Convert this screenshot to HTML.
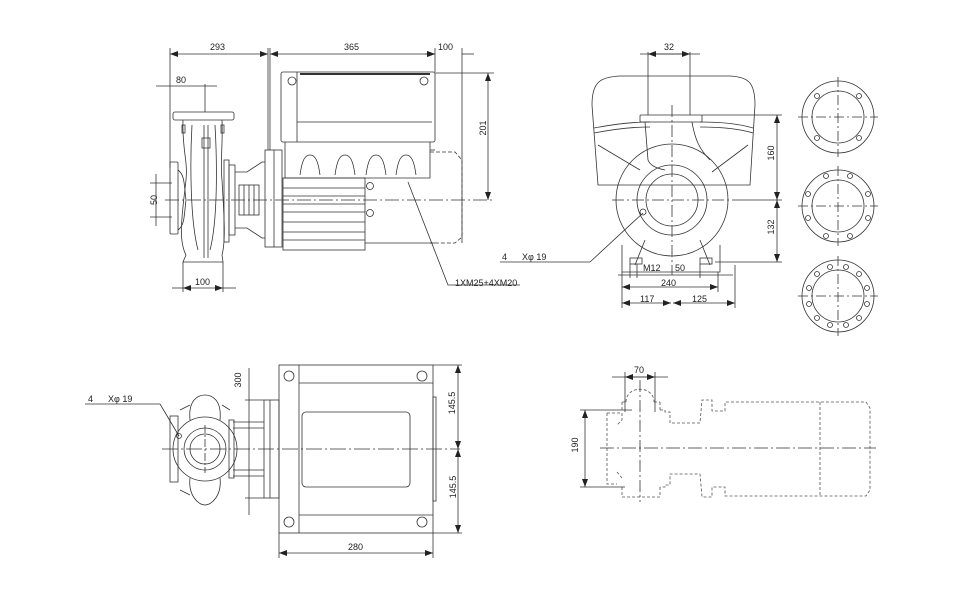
<!DOCTYPE html>
<html><head><meta charset="utf-8"><style>
html,body{margin:0;padding:0;background:#fff;}
svg{display:block;}
text{font-family:"Liberation Sans",sans-serif;font-size:9px;fill:#222;}
</style></head><body>
<svg width="976" height="600" viewBox="0 0 976 600" xmlns="http://www.w3.org/2000/svg">
<defs>
<marker id="a" markerWidth="8" markerHeight="6" refX="8" refY="3" orient="auto-start-reverse" markerUnits="userSpaceOnUse"><path d="M0,0 L8,3 L0,6 z" fill="#222"/></marker>
</defs>
<g fill="none" stroke="#333" stroke-width="0.8">
<!-- ============ TOP LEFT VIEW ============ -->
<!-- extension lines -->
<line x1="170" y1="48" x2="170" y2="168"/>
<line x1="268" y1="48" x2="268" y2="150"/>
<line x1="270" y1="48" x2="270" y2="150"/>
<line x1="435" y1="48" x2="435" y2="72"/>
<line x1="462" y1="48" x2="462" y2="243"/>
<line x1="170" y1="54" x2="268" y2="54" marker-start="url(#a)" marker-end="url(#a)"/>
<line x1="270" y1="54" x2="435" y2="54" marker-start="url(#a)" marker-end="url(#a)"/>
<line x1="425" y1="54" x2="435" y2="54" marker-end="url(#a)"/>
<line x1="462" y1="54" x2="474" y2="54"/>
<line x1="156" y1="86" x2="217" y2="86"/>
<line x1="205" y1="84" x2="205" y2="112"/>
<!-- pump top flange -->
<rect x="173" y="112" width="61" height="8" rx="2"/>
<path d="M183,120 C182,150 188,160 186,180 C182,215 178,240 186,255 M222,120 C223,150 220,160 222,180 C224,215 226,240 222,255"/>
<path d="M192,125 C190,160 190,220 198,250 M215,125 C217,160 218,220 210,250"/>
<line x1="204" y1="125" x2="204" y2="258"/>
<line x1="208" y1="125" x2="208" y2="258"/>
<rect x="202" y="138" width="8" height="10"/>
<rect x="182" y="125" width="3" height="8"/><rect x="221" y="125" width="3" height="8"/>
<!-- inlet flange -->
<rect x="170" y="162" width="8" height="72" rx="1"/>
<path d="M178,170 C185,175 184,185 186,200 C184,215 185,225 178,230"/>
<!-- right flange -->
<rect x="224" y="160" width="5" height="82"/>
<rect x="229" y="165" width="6" height="70"/>
<!-- base -->
<path d="M186,255 L183,262 L223,262 L222,255"/>
<line x1="183" y1="262" x2="183" y2="292"/><line x1="223" y1="262" x2="223" y2="292"/>
<line x1="183" y1="288" x2="223" y2="288" marker-start="url(#a)" marker-end="url(#a)"/>
<line x1="172" y1="288" x2="183" y2="288"/><line x1="223" y1="288" x2="236" y2="288"/>
<!-- 50 dim -->
<line x1="150" y1="183" x2="172" y2="183"/><line x1="150" y1="217" x2="172" y2="217"/>
<line x1="156" y1="174" x2="156" y2="226"/>
<!-- shaft / lantern -->
<path d="M235,172 L247,172 L262,162 L265,162 M235,228 L247,228 L262,238 L265,238"/>
<rect x="239" y="185" width="20" height="30"/>
<line x1="244" y1="185" x2="244" y2="215"/><line x1="249" y1="185" x2="249" y2="215"/><line x1="254" y1="185" x2="254" y2="215"/>
<!-- motor flange -->
<rect x="265" y="150" width="17" height="97"/>
<line x1="274" y1="150" x2="274" y2="247"/>
<!-- motor body -->
<rect x="283" y="178" width="82" height="72"/>
<line x1="283" y1="188" x2="365" y2="188"/><line x1="283" y1="196" x2="365" y2="196"/>
<line x1="283" y1="204" x2="365" y2="204"/><line x1="283" y1="212" x2="365" y2="212"/>
<line x1="283" y1="222" x2="365" y2="222"/><line x1="283" y1="232" x2="365" y2="232"/>
<line x1="283" y1="240" x2="365" y2="240"/>
<circle cx="370" cy="186" r="3.5"/><circle cx="370" cy="213" r="3.5"/>
<path d="M365,243 L435,243"/>
<!-- dashed motor outline -->
<path d="M430,152 L455,152 L462,160 L462,237 L455,243 L430,243" stroke-dasharray="4,2"/>
<!-- terminal box -->
<rect x="281" y="72" width="154" height="70" rx="2"/>
<line x1="297" y1="72" x2="297" y2="142"/>
<line x1="297" y1="122" x2="432" y2="122"/>
<line x1="300" y1="74" x2="430" y2="74" stroke-width="2"/>
<circle cx="292" cy="81" r="4"/><circle cx="424" cy="81" r="4"/>
<path d="M285,142 L285,178 L430,178 L430,142"/>
<line x1="430" y1="150" x2="435" y2="150"/>
<path d="M300,175 C302,160 305,155 310,155 C315,155 318,160 320,175"/>
<path d="M335,175 C337,160 340,155 345,155 C350,155 353,160 355,175"/>
<path d="M366,175 C368,160 371,155 376,155 C381,155 384,160 386,175"/>
<path d="M396,175 C398,160 401,155 406,155 C411,155 414,160 416,175"/>
<!-- centerline -->
<line x1="165" y1="200" x2="492" y2="200" stroke-dasharray="14,3,2,3"/>
<!-- 201 dim -->
<line x1="435" y1="73" x2="494" y2="73"/>
<line x1="488" y1="73" x2="488" y2="200" marker-start="url(#a)" marker-end="url(#a)"/>
<!-- leader -->
<polyline points="408,182 448,285 520,285"/>
<line x1="500" y1="262" x2="590" y2="262"/>
<line x1="590" y1="262" x2="643" y2="213"/>

<!-- ============ TOP RIGHT VIEW ============ -->
<path d="M598,185 L592,105 C592,82 600,77 620,76 L730,76 C748,77 755,82 755,105 L750,185 Z"/>
<path d="M594,128 C620,123 640,122 650,122 M700,122 C720,122 740,124 753,128"/>
<path d="M594,133 C620,128 640,127 650,127 M700,127 C720,127 740,129 753,133"/>
<path d="M598,145 L640,170 M748,145 L712,172"/>
<line x1="648" y1="52" x2="648" y2="115"/><line x1="690" y1="52" x2="690" y2="115"/>
<line x1="640" y1="54" x2="700" y2="54" />
<line x1="648" y1="54" x2="690" y2="54" marker-start="url(#a)" marker-end="url(#a)"/>
<rect x="640" y="115" width="62" height="7" rx="1"/>
<path d="M645,122 L648,160 C650,165 655,168 665,170 M692,122 C695,140 700,150 710,160"/>
<circle cx="672" cy="200" r="56"/>
<circle cx="672" cy="200" r="35"/>
<circle cx="672" cy="200" r="26"/>
<circle cx="643" cy="212" r="3"/>
<path d="M645,240 L635,265 M700,240 L710,265"/>
<path d="M622,245 L622,272 L720,272 L720,245"/>
<rect x="630" y="258" width="12" height="6"/><rect x="700" y="258" width="12" height="6"/>
<line x1="612" y1="200" x2="740" y2="200" stroke-dasharray="12,3,2,3"/>
<line x1="672" y1="105" x2="672" y2="275" stroke-dasharray="12,3,2,3"/>
<!-- 160/132 -->
<line x1="702" y1="115" x2="782" y2="115"/>
<line x1="740" y1="200" x2="782" y2="200"/>
<line x1="715" y1="262" x2="782" y2="262"/>
<line x1="777" y1="115" x2="777" y2="200" marker-start="url(#a)" marker-end="url(#a)"/>
<line x1="777" y1="200" x2="777" y2="262" marker-start="url(#a)" marker-end="url(#a)"/>
<!-- bottom dims -->
<line x1="622" y1="272" x2="622" y2="308"/><line x1="718" y1="272" x2="718" y2="292"/>
<line x1="735" y1="265" x2="735" y2="308"/>
<line x1="630" y1="264" x2="630" y2="278"/><line x1="637" y1="264" x2="637" y2="278"/>
<line x1="700" y1="264" x2="700" y2="278"/>
<line x1="618" y1="275" x2="733" y2="275"/>
<line x1="622" y1="287" x2="718" y2="287" marker-start="url(#a)" marker-end="url(#a)"/>
<line x1="622" y1="303" x2="671" y2="303" marker-start="url(#a)" marker-end="url(#a)"/>
<line x1="673" y1="303" x2="735" y2="303" marker-start="url(#a)" marker-end="url(#a)"/>
<!-- flanges -->
<g>
<circle cx="838" cy="117" r="36"/><circle cx="838" cy="117" r="26"/>
<line x1="798" y1="117" x2="878" y2="117" stroke-dasharray="10,3,2,3"/><line x1="838" y1="77" x2="838" y2="157" stroke-dasharray="10,3,2,3"/>
<circle cx="817" cy="96" r="2.5"/><circle cx="859" cy="96" r="2.5"/><circle cx="817" cy="138" r="2.5"/><circle cx="859" cy="138" r="2.5"/>
</g>
<g>
<circle cx="838" cy="206" r="36"/><circle cx="838" cy="206" r="26"/>
<line x1="798" y1="206" x2="878" y2="206" stroke-dasharray="10,3,2,3"/><line x1="838" y1="166" x2="838" y2="246" stroke-dasharray="10,3,2,3"/>
<circle cx="826" cy="176" r="2.5"/><circle cx="850" cy="176" r="2.5"/><circle cx="826" cy="236" r="2.5"/><circle cx="850" cy="236" r="2.5"/>
<circle cx="808" cy="194" r="2.5"/><circle cx="868" cy="194" r="2.5"/><circle cx="808" cy="218" r="2.5"/><circle cx="868" cy="218" r="2.5"/>
</g>
<g>
<circle cx="838" cy="296" r="36"/><circle cx="838" cy="296" r="26"/>
<line x1="798" y1="296" x2="878" y2="296" stroke-dasharray="10,3,2,3"/><line x1="838" y1="256" x2="838" y2="336" stroke-dasharray="10,3,2,3"/>
<circle cx="830" cy="267" r="2.5"/><circle cx="846" cy="267" r="2.5"/><circle cx="817" cy="274" r="2.5"/><circle cx="859" cy="274" r="2.5"/>
<circle cx="809" cy="288" r="2.5"/><circle cx="867" cy="288" r="2.5"/><circle cx="809" cy="304" r="2.5"/><circle cx="867" cy="304" r="2.5"/>
<circle cx="817" cy="318" r="2.5"/><circle cx="859" cy="318" r="2.5"/><circle cx="830" cy="325" r="2.5"/><circle cx="846" cy="325" r="2.5"/>
</g>

<!-- ============ BOTTOM LEFT ============ -->
<rect x="279" y="365" width="154" height="168"/>
<line x1="299" y1="365" x2="299" y2="533"/>
<line x1="299" y1="383" x2="433" y2="383"/><line x1="299" y1="515" x2="433" y2="515"/>
<rect x="302" y="412" width="108" height="75" rx="4"/>
<rect x="433" y="397" width="3" height="104"/>
<circle cx="289" cy="376" r="5"/><circle cx="422" cy="376" r="5"/><circle cx="289" cy="522" r="5"/><circle cx="422" cy="522" r="5"/>
<line x1="433" y1="365" x2="462" y2="365"/><line x1="433" y1="533" x2="462" y2="533"/>
<line x1="458" y1="365" x2="458" y2="449" marker-start="url(#a)" marker-end="url(#a)"/>
<line x1="458" y1="449" x2="458" y2="533" marker-start="url(#a)" marker-end="url(#a)"/>
<line x1="279" y1="533" x2="279" y2="558"/><line x1="433" y1="533" x2="433" y2="558"/>
<line x1="279" y1="553" x2="433" y2="553" marker-start="url(#a)" marker-end="url(#a)"/>
<!-- motor flange -->
<rect x="264" y="400" width="15" height="98"/>
<line x1="270" y1="400" x2="270" y2="498"/>
<line x1="249" y1="368" x2="249" y2="515"/>
<line x1="245" y1="400" x2="264" y2="400"/><line x1="245" y1="498" x2="264" y2="498"/>
<!-- lantern -->
<path d="M233,422 L264,422 M233,428 L264,428 M233,470 L264,470 M233,476 L264,476"/>
<!-- pump -->
<circle cx="205" cy="449" r="32"/>
<circle cx="205" cy="449" r="21"/>
<circle cx="205" cy="449" r="15"/>
<rect x="170" y="416" width="8" height="66"/>
<rect x="229" y="420" width="5" height="58"/>
<path d="M190,420 C188,400 198,395 205,395 C212,395 222,400 220,420"/>
<path d="M190,478 C188,495 198,505 205,505 C212,505 222,495 220,478"/>
<path d="M180,410 L190,405 M222,405 L230,410 M180,490 L190,495"/>
<circle cx="179" cy="436" r="2.5"/>
<line x1="162" y1="449" x2="460" y2="449" stroke-dasharray="16,3,2,3"/>
<line x1="205" y1="425" x2="205" y2="473" stroke-dasharray="8,2,2,2"/>
<line x1="85" y1="404" x2="160" y2="404"/>
<line x1="160" y1="404" x2="179" y2="436"/>

<!-- ============ BOTTOM RIGHT ============ -->
<g stroke="#555" stroke-dasharray="3,2">
<path d="M626,402 C626,385 654,385 654,402 M622,402 L626,402 M654,402 L660,402"/>
<path d="M622,402 L622,410 M660,402 L660,410"/>
<path d="M607,413 L622,413 L622,420 L617,425 M660,410 L665,410 L665,412 L670,412 L670,423 L700,423 L702,400 L712,400 L712,411 L725,411 L725,402 L820,402 L866,402 L870,408 L870,490 L866,496 L725,496 L725,487 L712,487 L712,497 L702,497 L700,474 L670,474 L670,485 L665,485 L665,487 L660,487"/>
<path d="M607,413 L607,484 L617,484 M617,472 L622,478"/>
<path d="M622,487 L622,497 L660,497 L660,487"/>
<line x1="820" y1="402" x2="820" y2="496"/>
</g>
<line x1="600" y1="448" x2="876" y2="448" stroke-dasharray="14,3,2,3"/>
<line x1="640" y1="380" x2="640" y2="502" stroke-dasharray="12,3,2,3"/>
<line x1="625" y1="372" x2="625" y2="412"/><line x1="655" y1="372" x2="655" y2="412"/>
<line x1="612" y1="377" x2="668" y2="377"/>
<line x1="625" y1="377" x2="655" y2="377" marker-start="url(#a)" marker-end="url(#a)"/>
<line x1="580" y1="410" x2="632" y2="410"/><line x1="580" y1="487" x2="625" y2="487"/>
<line x1="585" y1="410" x2="585" y2="487" marker-start="url(#a)" marker-end="url(#a)"/>
</g>
<!-- labels -->
<text x="210" y="50">293</text>
<text x="344" y="50">365</text>
<text x="438" y="50">100</text>
<text x="176" y="83">80</text>
<text x="153" y="204" transform="rotate(-90 153 200)" text-anchor="middle">50</text>
<text x="195" y="285">100</text>
<text x="492" y="138" transform="rotate(-90 484 136)" text-anchor="middle">201</text>
<text x="455" y="286">1XM25+4XM20</text>
<text x="502" y="260">4</text><text x="522" y="260">Xφ 19</text>
<text x="664" y="50">32</text>
<text x="777" y="160" transform="rotate(-90 772 158)" text-anchor="middle">160</text>
<text x="777" y="234" transform="rotate(-90 772 232)" text-anchor="middle">132</text>
<text x="643" y="271">M12</text><text x="675" y="271">50</text>
<text x="661" y="286">240</text>
<text x="640" y="302">117</text><text x="692" y="302">125</text>
<text x="88" y="402">4</text><text x="108" y="402">Xφ 19</text>
<text x="245" y="384" transform="rotate(-90 241 384)" text-anchor="middle">300</text>
<text x="458" y="410" transform="rotate(-90 453 408)" text-anchor="middle">145.5</text>
<text x="458" y="495" transform="rotate(-90 453 492)" text-anchor="middle">145.5</text>
<text x="348" y="550">280</text>
<text x="634" y="373">70</text>
<text x="580" y="451" transform="rotate(-90 576 449)" text-anchor="middle">190</text>
</svg>
</body></html>
